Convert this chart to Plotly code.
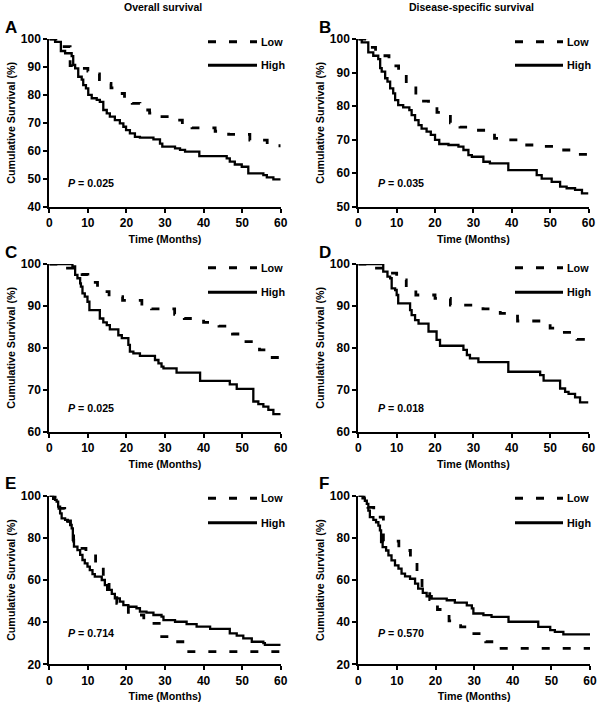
import plotly.graph_objects as go

# ---------------- data (Kaplan-Meier step estimates, % surviving) ----------------
A_high_t = [0, 1.5, 3.0, 4.1, 5.8, 6.2, 6.7, 7.5, 8.4, 8.8, 9.5, 10.1, 11.0, 12.3, 13.1, 14.0, 14.9, 15.7, 17.0, 18.3,
            19.2, 19.9, 20.9, 22.2, 23.5, 27.0, 28.7, 29.3, 32.6, 33.9, 35.2, 38.9, 46.0, 46.8, 48.1, 49.9, 51.6, 55.5, 56.4, 58.1, 60]
A_high_s = [100, 99, 95.7, 94.9, 93.9, 90.7, 89.5, 86.5, 85.5, 83.5, 82.3, 80, 78.8, 78.2, 77.5, 74.6, 73.4, 72.2, 71, 69.8,
            68.6, 67.4, 66.2, 65, 64.7, 64.1, 62.6, 61.5, 60.9, 60.3, 59.7, 58.1, 57.3, 56.1, 55.1, 54.3, 51.9, 51.3, 50.5, 49.8, 49.8]
A_low_t = [0, 2.5, 3.0, 5.4, 8.5, 10.0, 11.5, 13.0, 14.5, 16.0, 17.5, 19.5, 21.5, 23.5, 26.0, 28.0, 31.0, 34.5, 37.0, 43.0,
           46.5, 52.0, 56.5, 60]
A_low_s = [100, 98.5, 97.3, 90.5, 89.5, 88.5, 87.5, 85.5, 84.1, 82.5, 80.5, 78.5, 77, 74.6, 73.5, 72.2, 71, 69.5, 68.2, 67,
           65.9, 63.8, 61.8, 61.8]

B_high_t = [0, 0.9, 2.6, 3.9, 5.2, 5.7, 6.1, 7.0, 7.6, 8.3, 9.1, 9.6, 10.4, 11.7, 13.3, 13.9, 14.8, 15.7, 16.5, 17.8,
            18.9, 20.0, 21.1, 23.5, 26.1, 27.4, 28.7, 29.6, 32.6, 34.3, 39.1, 46.5, 47.8, 50.4, 52.6, 54.3, 56.5, 58.3, 60]
B_high_s = [100, 99, 96, 95, 94, 91.3, 90.3, 88.3, 87.3, 85.3, 83.8, 81.8, 80.3, 79.6, 78.8, 77.3, 75.8, 74.3, 73.3, 72.4,
            71.4, 69.9, 68.7, 68.4, 67.9, 66.9, 65.4, 64.9, 63.4, 62.9, 60.9, 59.4, 58.4, 57.4, 56, 55.5, 55, 54, 54]
B_low_t = [0, 2.0, 4.5, 8.0, 10.5, 12.5, 15.0, 17.0, 18.3, 20.5, 24.0, 26.5, 30.0, 35.5, 38.0, 43.0, 49.0, 52.0, 56.5, 60]
B_low_s = [100, 97.5, 95, 92, 89.5, 86, 83.3, 81.5, 80.3, 78.1, 75, 73.7, 72.8, 70.4, 69.9, 68.4, 68, 66.9, 65.6, 65.6]

C_high_t = [0, 6.0, 6.7, 7.3, 8.0, 8.2, 8.6, 9.2, 9.9, 10.4, 13.1, 14.0, 14.9, 15.7, 17.9, 18.8, 20.5, 20.9, 21.8, 23.5,
            27.4, 28.3, 29.1, 29.6, 33.0, 39.1, 46.8, 48.6, 52.9, 54.2, 55.5, 56.8, 58.1, 60]
C_high_s = [100, 99.4, 97.4, 96.6, 95.4, 94.6, 93, 92.2, 91, 89, 87, 86.1, 85.4, 84.4, 83, 82.3, 80.7, 79.1, 78.7, 78.1,
            77.1, 76.3, 75.5, 75.1, 74.1, 72.1, 71.3, 70.2, 67.2, 66.6, 66, 65.2, 64.2, 64.2]
C_low_t = [0, 3.5, 7.0, 8.5, 10.0, 12.5, 15.5, 19.0, 24.0, 26.5, 32.5, 35.0, 40.0, 44.0, 47.5, 51.0, 54.5, 56.5, 60]
C_low_s = [100, 99, 98, 97.5, 95.6, 93.4, 92.2, 91.3, 89.6, 89.3, 88, 87, 86.1, 85.2, 83.3, 81.5, 79.5, 77.7, 77.7]

D_high_t = [0, 6.5, 7.6, 8.3, 8.7, 9.6, 10.0, 10.4, 13.5, 13.9, 14.8, 15.7, 18.3, 20.4, 21.3, 27.4, 28.3, 29.1, 31.3, 39.1,
            47.4, 48.3, 52.6, 53.9, 54.8, 56.5, 57.8, 60]
D_high_s = [100, 98.2, 97, 96.6, 94.2, 93.8, 92.6, 90.6, 89, 87.8, 86.6, 85.8, 83.9, 81.9, 80.5, 79.5, 78.3, 77.5, 76.6, 74.3,
            73.5, 72.2, 70.3, 69.5, 69, 68.2, 67, 67]
D_low_t = [0, 3.0, 7.0, 10.0, 12.5, 15.0, 20.0, 24.0, 32.5, 37.0, 41.5, 50.0, 52.5, 57.0, 60]
D_low_s = [100, 99, 97.8, 96.2, 93.8, 92.6, 91.8, 90.2, 89.3, 88.2, 86.4, 84.7, 83.7, 82, 82]

E_high_t = [0, 1.0, 1.5, 1.9, 2.3, 2.8, 3.2, 4.1, 4.8, 5.4, 5.8, 6.1, 6.4, 7.3, 8.0, 8.6, 9.2, 9.9, 10.5, 11.2,
            11.8, 13.6, 14.4, 15.0, 16.2, 17.0, 18.3, 19.2, 20.5, 22.6, 23.5, 25.2, 27.0, 29.1, 29.6, 32.6, 35.6, 38.2, 41.7, 46.8,
            48.6, 50.3, 52.5, 55.5, 55.9, 60]
E_high_s = [100, 98.5, 98, 97.2, 94.8, 91.6, 89.2, 88.5, 87.7, 86.1, 84.5, 79, 75.8, 74.2, 71.9, 69.5, 67.9, 66.3, 64.7, 62.8,
            61.6, 60, 57.6, 55.3, 53.4, 51.3, 49.7, 48.1, 47.3, 46.6, 45, 44.5, 43.4, 42.6, 41, 40.2, 39.1, 37.9, 36.8, 34.7,
            33.6, 32.3, 30.7, 30, 29.2, 29.2]
E_low_t = [0, 1.5, 2.5, 4.0, 5.5, 6.3, 9.5, 12.0, 14.0, 15.5, 17.5, 20.5, 24.5, 28.5, 32.5, 35.5, 60]
E_low_s = [100, 97, 94, 88, 85, 75, 72.6, 67, 60.8, 54.5, 48.9, 43.4, 39.4, 33.1, 30.7, 26, 26]

F_high_t = [0, 1.1, 1.7, 2.2, 2.6, 3.0, 3.9, 4.6, 5.2, 5.6, 5.9, 6.3, 7.2, 7.8, 8.6, 9.5, 10.4, 11.2, 12.1, 13.4,
            14.7, 15.5, 16.7, 17.7, 19.0, 22.9, 25.0, 28.1, 29.4, 29.8, 32.4, 34.5, 38.9, 46.6, 49.7, 50.9, 53.1, 60]
F_high_s = [100, 98.7, 97.6, 96.1, 92.9, 89.8, 88.5, 87.4, 85.8, 83.5, 78, 75.6, 74, 71.7, 69.3, 66.9, 65.4, 63, 61.7, 60.6,
            58.3, 55.9, 53.9, 52.3, 51.2, 50.4, 49.3, 48, 46.5, 44.1, 43.3, 42.5, 40.2, 37.8, 36.2, 35.4, 34.2, 34.2]
F_low_t = [0, 1.5, 2.5, 4.0, 6.5, 10.5, 13.5, 15.2, 16.5, 18.5, 20.5, 23.5, 26.5, 29.5, 33.0, 36.0, 60]
F_low_s = [100, 97.5, 94.5, 89.8, 78.4, 74, 68.5, 62.2, 56.4, 50.7, 46, 40.6, 37.8, 34.6, 30.7, 27.6, 27.6]

p_values = ["0.025", "0.035", "0.025", "0.018", "0.714", "0.570"]
panel_letters = ["A", "B", "C", "D", "E", "F"]
y_ranges = [[40, 100], [50, 100], [60, 100], [60, 100], [20, 100], [20, 100]]
y_dticks = [10, 10, 10, 10, 20, 20]
x_ticks = [0, 10, 20, 30, 40, 50, 60]
column_titles = ["Overall survival", "Disease-specific survival"]
group_names = ["Low", "High"]

series = [
    ((A_low_t, A_low_s), (A_high_t, A_high_s)),
    ((B_low_t, B_low_s), (B_high_t, B_high_s)),
    ((C_low_t, C_low_s), (C_high_t, C_high_s)),
    ((D_low_t, D_low_s), (D_high_t, D_high_s)),
    ((E_low_t, E_low_s), (E_high_t, E_high_s)),
    ((F_low_t, F_low_s), (F_high_t, F_high_s)),
]

# ---------------- layout geometry (pixels) ----------------
W, H = 600, 705
FONT = "Arial, 'Liberation Sans', sans-serif"
col_x = [(49.3, 280.7), (358.3, 588.5)]
row_y = [(39, 206.7), (264, 431.7), (495.7, 664.3)]


def fx(p):
    return p / W


def fy(p):
    return 1 - p / H


fig = go.Figure()
annotations = []
shapes = []
DASH = "8px,13px"

for i in range(6):
    r, c = divmod(i, 2)
    (x0, x1), (y0, y1) = col_x[c], row_y[r]
    if i == 5:
        x1 = 590
    n = "" if i == 0 else str(i + 1)
    xa, ya = "xaxis" + n, "yaxis" + n
    axis_common = dict(showline=True, linecolor="black", linewidth=2, ticks="outside", ticklen=4, tickwidth=2,
                       tickcolor="black", showgrid=False, zeroline=False, automargin=False,
                       tickfont=dict(family=FONT, size=12, color="black", weight="bold"))
    fig.update_layout({
        xa: dict(domain=[fx(x0), fx(x1)], range=[0, 60], tickvals=x_ticks, anchor="y" + n,
                 title=dict(text="Time (Months)", standoff=6,
                            font=dict(family=FONT, size=10.7, color="black", weight="bold")),
                 **axis_common),
        ya: dict(domain=[fy(y1), fy(y0)], range=y_ranges[i], dtick=y_dticks[i], tick0=0, anchor="x" + n,
                 title=dict(text="Cumulative Survival (%)", standoff=3,
                            font=dict(family=FONT, size=10.7, color="black", weight="bold")),
                 **axis_common),
    })
    (lt, ls), (ht, hs) = series[i]
    fig.add_trace(go.Scatter(x=ht, y=hs, mode="lines", line=dict(shape="hv", color="black", width=2.3),
                             name=group_names[1], showlegend=False, cliponaxis=False, xaxis="x" + n, yaxis="y" + n))
    fig.add_trace(go.Scatter(x=lt, y=ls, mode="lines", line=dict(shape="hv", color="black", width=2.8, dash=DASH),
                             name=group_names[0], showlegend=False, cliponaxis=False, xaxis="x" + n, yaxis="y" + n))

    # panel letter
    lx = 3 if c == 0 else 316.5
    ly = [27.5, 253, 483][r]
    annotations.append(dict(text=panel_letters[i], x=fx(lx), y=fy(ly), xref="paper", yref="paper",
                            xanchor="left", yanchor="middle", showarrow=False,
                            font=dict(family=FONT, size=17, color="black", weight="bold")))
    # p-value
    ppx = 65.7 if c == 0 else 376
    ppy = [182.7, 408.3, 633.3][r]
    annotations.append(dict(text="<i>P</i> = " + p_values[i], x=fx(ppx), y=fy(ppy), xref="paper", yref="paper",
                            xanchor="left", yanchor="middle", showarrow=False,
                            font=dict(family=FONT, size=10.7, color="black", weight="bold")))
    # legend
    gx0, gx1 = (208, 257) if c == 0 else (515, 563)
    g_low = [41.7, 267.7, 498.3][r]
    g_high = [65.3, 292.3, 522.7][r]
    for name, gy, dash, w in ((group_names[0], g_low, DASH, 3), (group_names[1], g_high, "solid", 3)):
        shapes.append(dict(type="line", xref="paper", yref="paper", x0=fx(gx0), x1=fx(gx1), y0=fy(gy), y1=fy(gy),
                           line=dict(color="black", width=w, dash=dash)))
        annotations.append(dict(text=name, x=fx(gx1 + 1.5), y=fy(gy), xref="paper", yref="paper",
                                xanchor="left", yanchor="middle", showarrow=False,
                                font=dict(family=FONT, size=10.8, color="black", weight="bold")))

for j, t in enumerate(column_titles):
    annotations.append(dict(text=t, x=fx([163, 471.7][j]), y=fy(7.5), xref="paper", yref="paper",
                            xanchor="center", yanchor="middle", showarrow=False,
                            font=dict(family=FONT, size=10.5, color="black", weight="bold")))

fig.update_layout(width=W, height=H, margin=dict(l=0, r=0, t=0, b=0), plot_bgcolor="white",
                  paper_bgcolor="white", showlegend=False, annotations=annotations, shapes=shapes)

# remove the browser's default 8px page margin so the 600x705 figure fills the window exactly
fig.write_html("out.html", config={"displayModeBar": False},
               post_script="document.body.style.margin='0';document.body.style.overflow='hidden';")
